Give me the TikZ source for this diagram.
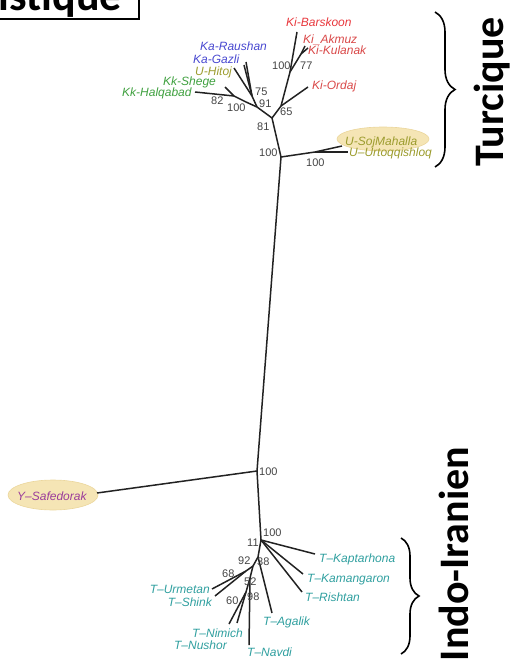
\documentclass[tikz,border=0pt]{standalone}
\usepackage{fontspec}
\setmainfont{Liberation Sans}
\newfontfamily\titlefont{Carlito}
\usetikzlibrary{decorations.pathreplacing}
\definecolor{kired}{HTML}{E8383D}
\definecolor{kared}{HTML}{D94848}
\definecolor{kablue}{HTML}{4848D0}
\definecolor{kkgreen}{HTML}{3FA03F}
\definecolor{uolive}{HTML}{9C9C2E}
\definecolor{tteal}{HTML}{2F9F9F}
\definecolor{ypurple}{HTML}{9B3D9B}
\definecolor{hilite}{HTML}{F5E5B5}
\definecolor{hiliteedge}{HTML}{EBD69C}
\definecolor{bootgrey}{HTML}{444444}
\definecolor{branch}{HTML}{222222}
\tikzset{
  br/.style={draw=branch, line width=1.5pt},
  leaf/.style={font=\fontsize{12}{12}\selectfont\itshape, inner sep=0pt},
  bs/.style={font=\fontsize{11}{11}\selectfont, text=bootgrey, inner sep=0pt, anchor=base west},
  hl/.style={fill=hilite, draw=hiliteedge, line width=0.6pt},
  grp/.style={font=\titlefont\bfseries\fontsize{42}{42}\selectfont, inner sep=0pt, rotate=90, anchor=base},
  brc/.style={draw=black, line width=1.6pt, decorate},
}
\begin{document}
\begin{tikzpicture}[x=1pt, y=-1pt]
\useasboundingbox (0,0) rectangle (513,666);
\clip (0,0) rectangle (513,666);
% title box (cut by the page edge)
\draw[line width=2pt] (-60,-40) rectangle (139,19);
\node[font=\titlefont\bfseries\fontsize{44}{44}\selectfont, inner sep=0pt, anchor=base east] (title) at (122,11) {Linguistique};
% highlights
\fill[hl] (383,139) ellipse [x radius=46, y radius=12];
\fill[hl] (53,495) ellipse [x radius=45, y radius=15];
% coordinates of the tree
\coordinate (R1) at (281,157);
\coordinate (NY) at (257,471);
\coordinate (N11) at (261,540);
\coordinate (n81) at (272,118);
\coordinate (n65) at (281,106);
\coordinate (nB) at (290,72);
\coordinate (tBar) at (297,32);
\coordinate (n77) at (301,54);
\coordinate (tAkm) at (305,46);
\coordinate (tKul) at (308,48);
\coordinate (tOrd) at (308,87);
\coordinate (n91) at (257,107);
\coordinate (n75) at (252,96);
\coordinate (tRau) at (246,62);
\coordinate (tGaz) at (244,65);
\coordinate (tHit) at (234,68);
\coordinate (nKk) at (246,102);
\coordinate (n82) at (234,96);
\coordinate (tShe) at (225,87);
\coordinate (tHal) at (195,92);
\coordinate (nU) at (315,152);
\coordinate (tSoj) at (342,146);
\coordinate (tUrt) at (348,152);
\coordinate (tY) at (97,493);
\coordinate (N38) at (258,557);
\coordinate (n92) at (253,566);
\coordinate (tKap) at (315,554);
\coordinate (tKam) at (303,574);
\coordinate (tRis) at (302,592);
\coordinate (tAga) at (272,613);
\coordinate (n68) at (246,571);
\coordinate (tUrm) at (212,589);
\coordinate (tShi) at (215,596);
\coordinate (n52) at (250,578);
\coordinate (tNav) at (249,645);
\coordinate (n60) at (246,592);
\coordinate (tNim) at (229,624);
\coordinate (tNus) at (237,623);
% branches
\draw[br] (R1) -- (NY) -- (N11);
\draw[br] (NY) -- (tY);
\draw[br] (R1) -- (n81);
\draw[br] (n81) -- (n65);
\draw[br] (n65) -- (nB) -- (tBar);
\draw[br] (nB) -- (n77);
\draw[br] (n77) -- (tAkm);
\draw[br] (n77) -- (tKul);
\draw[br] (n65) -- (tOrd);
\draw[br] (n81) -- (n91);
\draw[br] (n91) -- (n75);
\draw[br] (n75) -- (tRau);
\draw[br] (n75) -- (tGaz);
\draw[br] (n75) -- (tHit);
\draw[br] (n91) -- (nKk) -- (n82);
\draw[br] (n82) -- (tShe);
\draw[br] (n82) -- (tHal);
\draw[br] (R1) -- (nU);
\draw[br] (nU) -- (tSoj);
\draw[br] (nU) -- (tUrt);
\draw[br] (N11) -- (tKap);
\draw[br] (N11) -- (tKam);
\draw[br] (N11) -- (tRis);
\draw[br] (N11) -- (N38) -- (n92);
\draw[br] (N38) -- (tAga);
\draw[br] (n92) -- (n68);
\draw[br] (n68) -- (tUrm);
\draw[br] (n68) -- (tShi);
\draw[br] (n92) -- (n52) -- (tNav);
\draw[br] (n52) -- (n60);
\draw[br] (n60) -- (tNim);
\draw[br] (n60) -- (tNus);
% leaf labels
\node[leaf, text=kired, anchor=base west] (lBar) at (286,27) {Ki-Barskoon};
\node[leaf, text=kared, anchor=base west] (lAkm) at (303,44) {Ki\_Akmuz};
\node[leaf, text=kared, anchor=base west] (lKul) at (308,55) {Ki-Kulanak};
\node[leaf, text=kared, anchor=base west] (lOrd) at (312,90) {Ki-Ordaj};
\node[leaf, text=kablue, anchor=base west] (lRau) at (200,51) {Ka-Raushan};
\node[leaf, text=kablue, anchor=base west] (lGaz) at (193,64) {Ka-Gazli};
\node[leaf, text=uolive, anchor=base west] (lHit) at (195,76) {U-Hitoj};
\node[leaf, text=kkgreen, anchor=base west] (lShe) at (163,86) {Kk-Shege};
\node[leaf, text=kkgreen, anchor=base west] (lHal) at (122,97) {Kk-Halqabad};
\node[leaf, text=uolive, anchor=base west] (lSoj) at (345,146) {U-SojMahalla};
\node[leaf, text=uolive, anchor=base west] (lUrt) at (349,156) {U–Urtoqqishloq};
\node[leaf, text=ypurple, anchor=base west] (lY) at (17,500) {Y–Safedorak};
\node[leaf, text=tteal, anchor=base west] (lKap) at (319,562) {T–Kaptarhona};
\node[leaf, text=tteal, anchor=base west] (lKam) at (307,582) {T–Kamangaron};
\node[leaf, text=tteal, anchor=base west] (lRis) at (305,601) {T–Rishtan};
\node[leaf, text=tteal, anchor=base west] (lAga) at (263,625) {T–Agalik};
\node[leaf, text=tteal, anchor=base east] (lUrm) at (210,593) {T–Urmetan};
\node[leaf, text=tteal, anchor=base east] (lShi) at (212,606) {T–Shink};
\node[leaf, text=tteal, anchor=base east] (lNim) at (243,637) {T–Nimich};
\node[leaf, text=tteal, anchor=base east] (lNus) at (227,649) {T–Nushor};
\node[leaf, text=tteal, anchor=base west] (lNav) at (247,656) {T–Navdi};
% bootstrap values
\node[bs] (b1) at (272,70) {100};
\node[bs] (b2) at (300,70) {77};
\node[bs] (b3) at (280,116) {65};
\node[bs] (b4) at (255,96) {75};
\node[bs] (b5) at (259,108) {91};
\node[bs] (b6) at (211,105) {82};
\node[bs] (b7) at (227,111) {100};
\node[bs] (b8) at (257,130) {81};
\node[bs] (b9) at (259,157) {100};
\node[bs] (b10) at (306,166) {100};
\node[bs] (b11) at (259,475) {100};
\node[bs] (b12) at (263,536) {100};
\node[bs] (b13) at (247,546) {11};
\node[bs] (b14) at (238,564) {92};
\node[bs] (b15) at (257,565) {38};
\node[bs] (b16) at (222,577) {68};
\node[bs] (b17) at (244,585) {52};
\node[bs] (b18) at (247,600) {98};
\node[bs] (b19) at (226,604) {60};
% braces and group names
\coordinate (brT1) at (435,12);
\coordinate (brT2) at (435,167);
\coordinate (brB1) at (401,538);
\coordinate (brB2) at (401,654);
\draw[brc, decoration={brace, amplitude=20pt}] (brT1) -- (brT2);
\draw[brc, decoration={brace, amplitude=18pt}] (brB1) -- (brB2);
\node[grp] (turc) at (503,92) {Turcique};
\node[grp] (indo) at (468,554) {Indo-Iranien};
\end{tikzpicture}
\end{document}
